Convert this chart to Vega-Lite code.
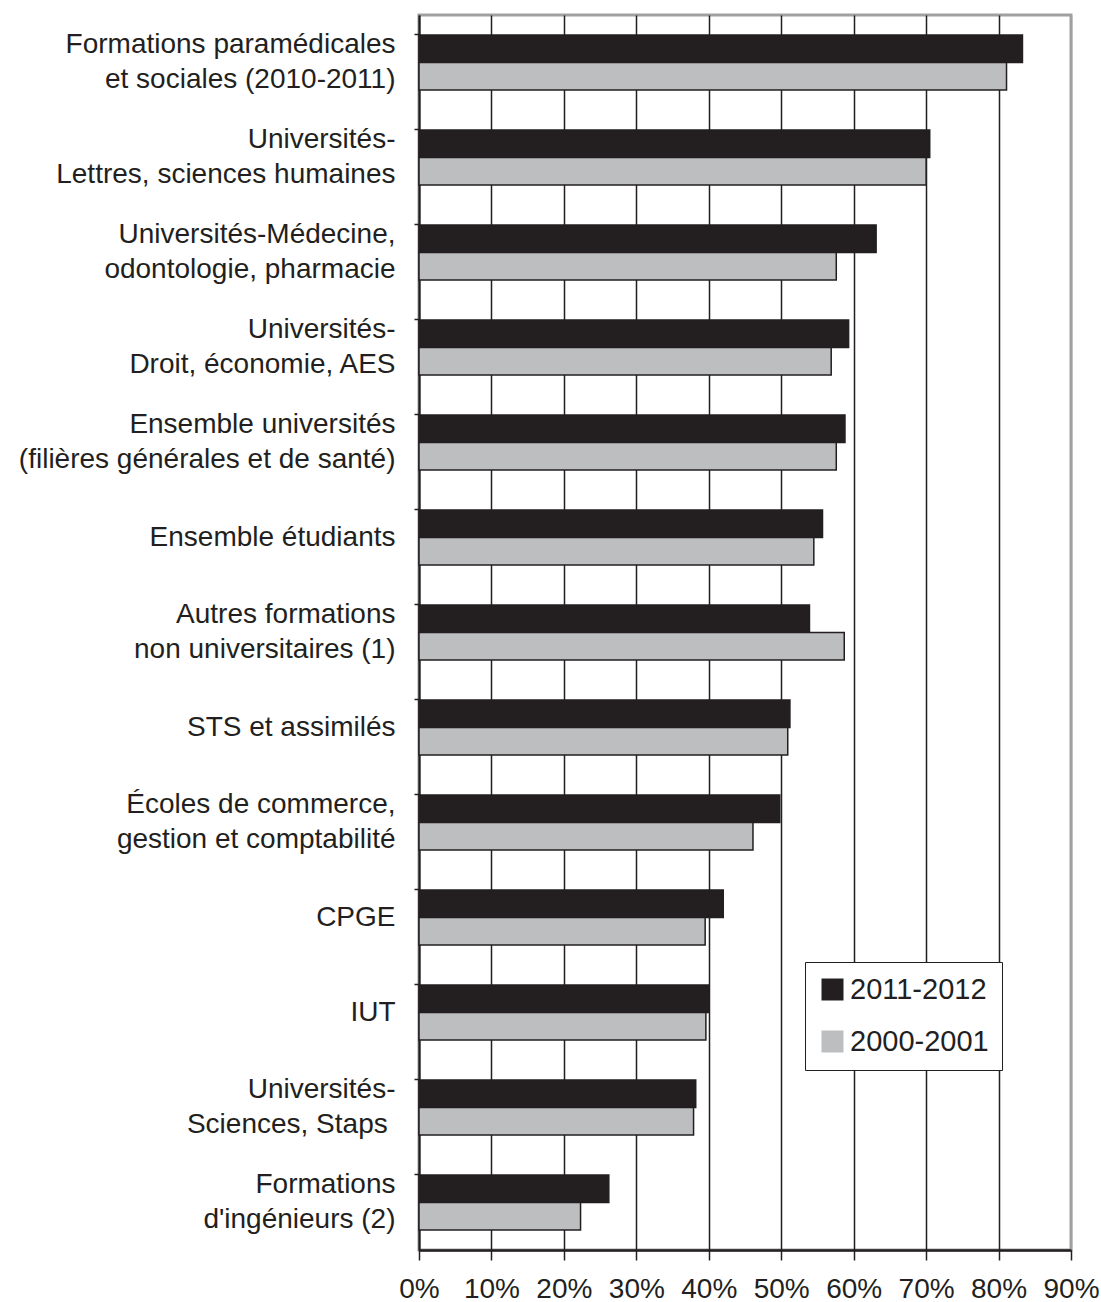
{
  "$schema": "https://vega.github.io/schema/vega-lite/v6.json",
  "autosize": {"type": "none"},
  "padding": {"left": 419, "top": 15, "right": 30, "bottom": 52},
  "width": 652,
  "height": 1235,
  "background": "white",
  "config": {
    "view": {"stroke": "#a0a0a0", "strokeWidth": 3},
    "font": "Liberation Sans"
  },
  "data": {
    "values": [
      {"category": "Formations paramédicales|et sociales (2010-2011)", "series": "2011-2012", "value": 0.833},
      {"category": "Formations paramédicales|et sociales (2010-2011)", "series": "2000-2001", "value": 0.811},
      {"category": "Universités-|Lettres, sciences humaines", "series": "2011-2012", "value": 0.705},
      {"category": "Universités-|Lettres, sciences humaines", "series": "2000-2001", "value": 0.700},
      {"category": "Universités-Médecine,|odontologie, pharmacie", "series": "2011-2012", "value": 0.631},
      {"category": "Universités-Médecine,|odontologie, pharmacie", "series": "2000-2001", "value": 0.576},
      {"category": "Universités-|Droit, économie, AES", "series": "2011-2012", "value": 0.593},
      {"category": "Universités-|Droit, économie, AES", "series": "2000-2001", "value": 0.569},
      {"category": "Ensemble universités|(filières générales et de santé)", "series": "2011-2012", "value": 0.588},
      {"category": "Ensemble universités|(filières générales et de santé)", "series": "2000-2001", "value": 0.576},
      {"category": "Ensemble étudiants", "series": "2011-2012", "value": 0.557},
      {"category": "Ensemble étudiants", "series": "2000-2001", "value": 0.545},
      {"category": "Autres formations|non universitaires (1)", "series": "2011-2012", "value": 0.539},
      {"category": "Autres formations|non universitaires (1)", "series": "2000-2001", "value": 0.587},
      {"category": "STS et assimilés", "series": "2011-2012", "value": 0.512},
      {"category": "STS et assimilés", "series": "2000-2001", "value": 0.509},
      {"category": "Écoles de commerce,|gestion et comptabilité", "series": "2011-2012", "value": 0.498},
      {"category": "Écoles de commerce,|gestion et comptabilité", "series": "2000-2001", "value": 0.461},
      {"category": "CPGE", "series": "2011-2012", "value": 0.420},
      {"category": "CPGE", "series": "2000-2001", "value": 0.395},
      {"category": "IUT", "series": "2011-2012", "value": 0.400},
      {"category": "IUT", "series": "2000-2001", "value": 0.396},
      {"category": "Universités-|Sciences, Staps \u200b", "series": "2011-2012", "value": 0.382},
      {"category": "Universités-|Sciences, Staps \u200b", "series": "2000-2001", "value": 0.379},
      {"category": "Formations|d'ingénieurs (2)", "series": "2011-2012", "value": 0.262},
      {"category": "Formations|d'ingénieurs (2)", "series": "2000-2001", "value": 0.223}
    ]
  },
  "mark": {"type": "bar", "stroke": "#231f20", "strokeWidth": 1.5},
  "encoding": {
    "y": {
      "field": "category",
      "type": "nominal",
      "sort": null,
      "scale": {"paddingInner": 0.42, "paddingOuter": 0.21},
      "axis": {
        "title": null,
        "bandPosition": 0,
        "labelExpr": "split(datum.label, '|')",
        "labelFontSize": 28,
        "labelLineHeight": 35.5,
        "labelColor": "#231f20",
        "labelPadding": 19,
        "labelLimit": 600,
        "labelOffset": {"condition": {"test": "indexof(datum.value, '|') >= 0", "value": -17.75}, "value": 0},
        "tickSize": 5,
        "tickColor": "#231f20",
        "tickWidth": 1.5,
        "domainColor": "#231f20",
        "domainWidth": 2,
        "grid": false
      }
    },
    "yOffset": {"field": "series", "type": "nominal", "sort": ["2011-2012", "2000-2001"]},
    "x": {
      "field": "value",
      "type": "quantitative",
      "scale": {"domain": [0, 0.9], "nice": false},
      "axis": {
        "title": null,
        "values": [0, 0.1, 0.2, 0.3, 0.4, 0.5, 0.6, 0.7, 0.8, 0.9],
        "format": ".0%",
        "labelFontSize": 28,
        "labelColor": "#231f20",
        "labelPadding": 15,
        "labelFlush": false,
        "labelOverlap": false,
        "tickSize": 10,
        "tickColor": "#231f20",
        "tickWidth": 1.5,
        "domainColor": "#231f20",
        "domainWidth": 2.5,
        "grid": true,
        "gridColor": {"condition": {"test": "datum.value >= 0.9", "value": "#a0a0a0"}, "value": "#231f20"},
        "gridWidth": 1.5,
        "gridOpacity": 1
      }
    },
    "color": {
      "field": "series",
      "type": "nominal",
      "scale": {"domain": ["2011-2012", "2000-2001"], "range": ["#231f20", "#bcbec0"]},
      "legend": {
        "title": null,
        "orient": "none",
        "legendX": 386,
        "legendY": 947,
        "padding": 13,
        "strokeColor": "#231f20",
        "fillColor": "white",
        "symbolType": "square",
        "symbolSize": 484,
        "symbolStrokeWidth": 0,
        "symbolOpacity": 1,
        "labelFontSize": 29,
        "labelColor": "#231f20",
        "labelOffset": 3,
        "rowPadding": 22,
        "labelLimit": 300
      }
    }
  }
}
